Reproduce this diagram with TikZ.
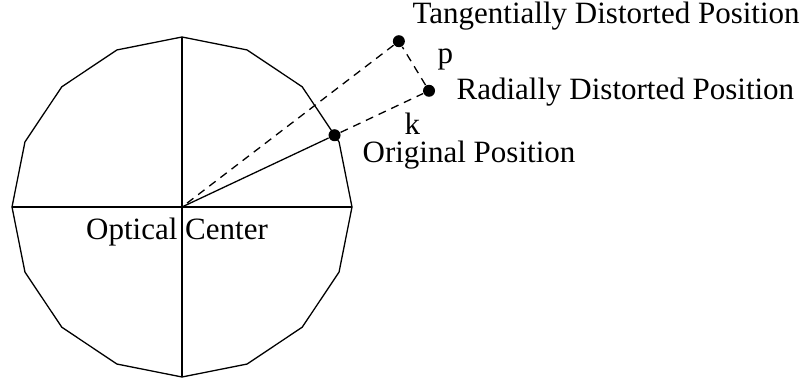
\documentclass[tikz,border=0pt]{standalone}
\usepackage{fontspec}
\setmainfont{Liberation Serif}
\usetikzlibrary{calc}
\tikzset{
  every picture/.style={line width=0.65pt},
  dot/.style={circle, fill=black, inner sep=0pt, minimum size=6pt},
  guide/.style={dash pattern=on 4pt off 3pt},
  tag/.style={inner sep=0pt, anchor=base west},
}

\begin{document}
\begin{tikzpicture}[x=0.5pt, y=-0.5pt, font=\fontsize{15.5}{18}\selectfont]
  \useasboundingbox (0,0) rectangle (808,378);
  \coordinate (oc) at (182,207);
  % rim: sixteen corners round the centre
  \foreach \i in {0,...,15}
    \coordinate (v\i) at ($(oc)+(\i*22.5:170)$);
  \draw (v0) \foreach \i in {1,...,15} {-- (v\i)} -- cycle;
  \draw (v0) -- (v8);
  \draw (v4) -- (v12);
  % the three positions of one point
  \node[dot] (orig) at ($(oc)+(-25.2:168.6)$) {};
  \node[dot] (rad)  at ($(oc)+(-25.2:273)$) {};
  \node[dot] (tang) at ($(oc)+(-37.4:273)$) {};
  \draw (oc) -- (orig);
  \draw[guide] (orig) -- (rad) -- (tang) -- (oc);
  % texts
  \node[tag] (tangtxt) at (412,24) {Tangentially Distorted Position};
  \node[tag] (p) at (437,64) {p};
  \node[tag] (radtxt) at (456,100) {Radially Distorted Position};
  \node[tag] (k) at (404,135) {k};
  \node[tag] (origtxt) at (362,163) {Original Position};
  \node[tag, anchor=base] (octxt) at (177,240) {Optical Center};
\end{tikzpicture}
\end{document}
